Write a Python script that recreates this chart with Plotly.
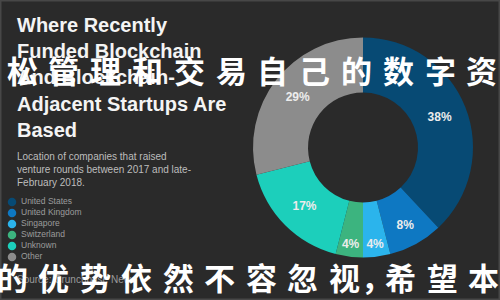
import plotly.graph_objects as go

# ---- data ----
countries = ["United States", "United Kingdom", "Singapore", "Switzerland", "Unknown", "Other"]
shares = [38, 8, 4, 4, 17, 29]
colors = ["#074a74", "#0e78c2", "#2bb4ec", "#3cb47f", "#1ccfbb", "#8c8c8c"]
title_lines = ["Where Recently", "Funded Blockchain", "And Blockchain-", "Adjacent Startups Are", "Based"]
subtitle_lines = ["Location of companies that raised",
                  "venture rounds between 2017 and late-",
                  "February 2018."]
source_text = "Source: Crunchbase News"
overlay_top = "松管理和交易自己的数字资"
overlay_bottom = "的优势依然不容忽视，希望本"

W, H = 500, 300
BG = "#2a2a2a"
SANS = "Liberation Sans"


def px(x):
    return x / W


def py(y):
    return 1 - y / H


fig = go.Figure()

# donut
fig.add_trace(go.Pie(
    labels=countries, values=shares, hole=0.5, sort=False, direction="clockwise",
    rotation=0, marker=dict(colors=colors, line=dict(width=0)),
    textinfo="percent", textposition="inside", insidetextorientation="horizontal",
    texttemplate="%{percent:.0%}",
    textfont=dict(family=SANS, size=12, color="#ececec", weight="bold"),
    domain=dict(x=[px(253), px(473)], y=[py(257.5), py(37.5)]),
    showlegend=False, hoverinfo="skip",
))

# custom compact legend: markers
fig.add_trace(go.Scatter(
    x=[0] * len(countries), y=list(range(len(countries))),
    mode="markers", marker=dict(size=8.5, color=colors),
    xaxis="x", yaxis="y", showlegend=False, hoverinfo="skip", cliponaxis=False,
))
# legend labels
fig.add_trace(go.Scatter(
    x=[9] * len(countries), y=list(range(len(countries))),
    mode="text", text=countries, textposition="middle right",
    textfont=dict(family=SANS, size=8.5, color="#9c9c9c"),
    xaxis="x", yaxis="y", showlegend=False, hoverinfo="skip", cliponaxis=False,
))

annotations = []
# title
for i, line in enumerate(title_lines):
    annotations.append(dict(
        text=line, x=px(15), y=py(25 + 26.2 * i), xref="paper", yref="paper",
        xanchor="left", yanchor="middle", showarrow=False,
        font=dict(family=SANS, size=20, color="#f4f4f4", weight="bold")))
# subtitle
for i, line in enumerate(subtitle_lines):
    annotations.append(dict(
        text=line, x=px(15), y=py(156 + 13 * i), xref="paper", yref="paper",
        xanchor="left", yanchor="middle", showarrow=False,
        font=dict(family=SANS, size=10, color="#bdbdbd")))
# source
annotations.append(dict(
    text=source_text, x=px(15), y=py(279), xref="paper", yref="paper",
    xanchor="left", yanchor="middle", showarrow=False,
    font=dict(family=SANS, size=10, color="#9a9a9a")))


# overlay chinese text lines (one annotation per character)
def add_line(chars, x0, yc, step):
    x = x0
    for ch in chars:
        punct = ch in "，。"
        w = step * 0.37 if punct else step
        cx = x + w / 2 - step / 2 + 4 if punct else x
        annotations.append(dict(
            text=ch, x=px(cx), y=py(yc), xref="paper", yref="paper",
            xanchor="center", yanchor="middle", showarrow=False,
            font=dict(family="Noto Sans CJK SC", size=31, color="#ffffff", weight="bold")))
        x += w


add_line(overlay_top, 22, 69, 41.8)
add_line(overlay_bottom, 12, 276, 41.5)

fig.update_layout(
    width=W, height=H, margin=dict(l=0, r=0, t=0, b=0),
    paper_bgcolor=BG, plot_bgcolor=BG,
    xaxis=dict(domain=[0, 0.3], range=[-12, 138], visible=False, fixedrange=True),
    yaxis=dict(domain=[py(262.5), py(196.5)], range=[5.5, -0.5], visible=False, fixedrange=True),
    annotations=annotations,
    shapes=[dict(type="rect", xref="paper", yref="paper", x0=0, y0=0, x1=1, y1=1,
                 line=dict(color="#474747", width=3), layer="above")],
)

fig.write_html("out.html")
